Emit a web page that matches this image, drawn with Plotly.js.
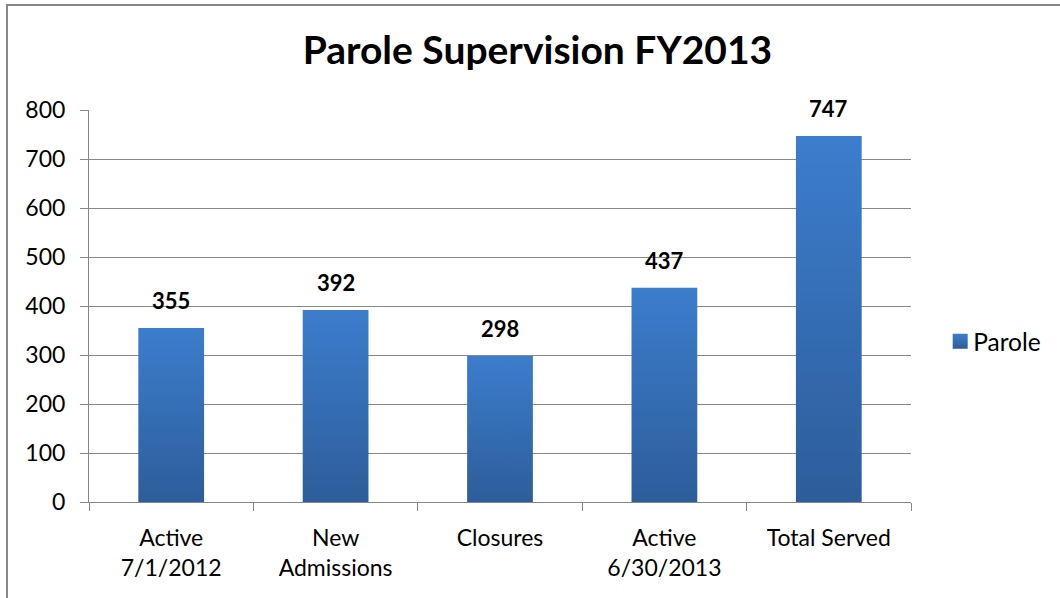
<!DOCTYPE html>
<html>
<head>
<meta charset="utf-8">
<script src="https://cdn.plot.ly/plotly-3.0.1.min.js"></script>
<style>
html,body{margin:0;padding:0;overflow:hidden;background:#fff;}
#chart{position:absolute;left:0;top:0;width:1060px;height:598px;}
#frame{position:absolute;left:6px;top:4px;width:2000px;height:2000px;border:2px solid #878787;pointer-events:none;box-sizing:border-box;}
</style>
</head>
<body>
<div id="chart"></div>
<div id="frame"></div>
<script>
const categories = ["Active<br>7/1/2012", "New<br>Admissions", "Closures", "Active<br>6/30/2013", "Total Served"];
const parole = [355, 392, 298, 437, 747];
const seriesName = "Parole";
const yTicks = [0, 100, 200, 300, 400, 500, 600, 700, 800];

const FONT = "Lato, 'Open Sans', sans-serif";

const annotations = categories.map((c, i) => ({
  x: c, y: parole[i], xref: 'x', yref: 'y',
  text: '<b>' + parole[i] + '</b>', showarrow: false,
  yanchor: 'bottom', yshift: 12,
  font: {family: FONT, size: 22, color: '#000'}
}));

const data = [{
  type: 'bar', x: categories, y: parole, name: seriesName,
  marker: {color: '#3470b8', line: {width: 0}},
  hoverinfo: 'skip'
}];

const layout = {
  width: 1060, height: 598,
  margin: {l: 89, r: 149, t: 110, b: 96},
  paper_bgcolor: '#fff', plot_bgcolor: '#fff',
  bargap: 0.6,
  title: {text: '<b>Parole Supervision FY2013</b>', x: 0.507, xanchor: 'center', y: 0.915, yanchor: 'middle',
          font: {family: FONT, size: 39, color: '#000'}},
  xaxis: {
    type: 'category', tickson: 'boundaries', ticks: 'outside', ticklen: 8, tickcolor: '#868686', tickwidth: 1,
    showline: true, linecolor: '#868686', linewidth: 1, showgrid: false,
    tickfont: {family: FONT, size: 23, color: '#000'}, ticklabelstandoff: 15
  },
  yaxis: {
    range: [0, 800], tickvals: yTicks, ticktext: yTicks.map(String),
    ticks: 'outside', ticklen: 8, tickcolor: '#868686', tickwidth: 1,
    showline: true, linecolor: '#868686', linewidth: 1,
    showgrid: true, gridcolor: '#888888', gridwidth: 1, zeroline: false,
    tickfont: {family: FONT, size: 23, color: '#000'}, ticklabelstandoff: 10
  },
  showlegend: true,
  legend: {x: 1.027, xanchor: 'left', y: 0.41, yanchor: 'middle', font: {family: FONT, size: 24.5, color: '#000'},
           bgcolor: 'rgba(0,0,0,0)'},
  annotations: annotations
};

Plotly.newPlot('chart', data, layout, {displayModeBar: false, staticPlot: true}).then(gd => {
  const svg = gd.querySelector('svg.main-svg');
  const ns = 'http://www.w3.org/2000/svg';
  let defs = svg.querySelector('defs');
  if (!defs) { defs = document.createElementNS(ns, 'defs'); svg.insertBefore(defs, svg.firstChild); }
  const g = document.createElementNS(ns, 'linearGradient');
  g.setAttribute('id', 'barGrad');
  g.setAttribute('x1', '0'); g.setAttribute('y1', '0'); g.setAttribute('x2', '0'); g.setAttribute('y2', '1');
  [['0', '#3c7dcd'], ['1', '#2d5d9a']].forEach(([o, c]) => {
    const s = document.createElementNS(ns, 'stop');
    s.setAttribute('offset', o); s.setAttribute('stop-color', c);
    g.appendChild(s);
  });
  defs.appendChild(g);
  gd.querySelectorAll('.barlayer .point path').forEach(p => {
    p.style.fill = 'url(#barGrad)';
  });
  gd.querySelectorAll('.legend .legendpoints path').forEach(p => {
    p.style.fill = 'url(#barGrad)';
    p.setAttribute('d', 'M14.5,7.5H-0.5V-7.5H14.5Z');
  });
});
</script>
</body>
</html>
